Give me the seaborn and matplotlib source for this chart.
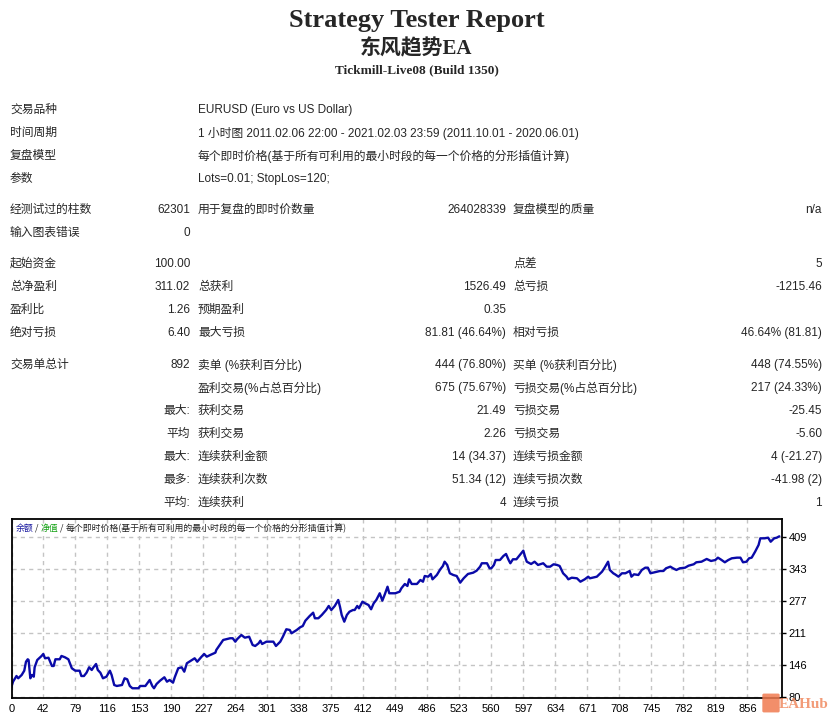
import matplotlib
matplotlib.use("Agg")
import matplotlib.pyplot as plt
from matplotlib.patches import FancyBboxPatch
import seaborn as sns

# report header
title = "Strategy Tester Report"
ea_name = "东风趋势EA"
server = "Tickmill-Live08 (Build 1350)"

info_labels = ["交易品种", "时间周期", "复盘模型", "参数"]
info_values = ["EURUSD (Euro vs US Dollar)",
               "1 小时图 2011.02.06 22:00 - 2021.02.03 23:59 (2011.10.01 - 2020.06.01)",
               "每个即时价格(基于所有可利用的最小时段的每一个价格的分形插值计算)",
               "Lots=0.01; StopLos=120;"]

# stats table: label, value, label, value, label, value
stat_rows = [
    ["经测试过的柱数", "62301", "用于复盘的即时价数量", "264028339", "复盘模型的质量", "n/a"],
    ["输入图表错误", "0", "", "", "", ""],
    ["起始资金", "100.00", "", "", "点差", "5"],
    ["总净盈利", "311.02", "总获利", "1526.49", "总亏损", "-1215.46"],
    ["盈利比", "1.26", "预期盈利", "0.35", "", ""],
    ["绝对亏损", "6.40", "最大亏损", "81.81 (46.64%)", "相对亏损", "46.64% (81.81)"],
    ["交易单总计", "892", "卖单 (%获利百分比)", "444 (76.80%)", "买单 (%获利百分比)", "448 (74.55%)"],
    ["", "", "盈利交易(%占总百分比)", "675 (75.67%)", "亏损交易(%占总百分比)", "217 (24.33%)"],
    ["", "最大:", "获利交易", "21.49", "亏损交易", "-25.45"],
    ["", "平均", "获利交易", "2.26", "亏损交易", "-5.60"],
    ["", "最大:", "连续获利金额", "14 (34.37)", "连续亏损金额", "4 (-21.27)"],
    ["", "最多:", "连续获利次数", "51.34 (12)", "连续亏损次数", "-41.98 (2)"],
    ["", "平均:", "连续获利", "4", "连续亏损", "1"],
]

# balance curve (trade number, balance)
trade_no = [5, 7, 11, 13, 17, 20, 22, 24, 25, 27, 29, 31, 32, 35, 40, 42, 44, 48, 52, 54,
            56, 61, 63, 67, 71, 75, 79, 84, 86, 89, 92, 95, 98, 100, 103, 105, 108, 111, 115, 119,
            121, 124, 127, 133, 136, 139, 142, 145, 152, 154, 160, 165, 168, 170, 173, 177, 182, 185, 188, 192,
            194, 198, 202, 205, 208, 214, 217, 220, 225, 228, 231, 235,
            241, 242, 246, 250, 258, 261, 264, 266, 271, 275, 280, 284, 287, 291, 293, 295, 300, 308, 311, 316,
            319, 323, 327, 329, 335, 339, 342, 345, 350, 354, 356, 360, 364, 369, 372, 375, 379, 383, 385, 387,
            390, 393, 396, 400, 402, 405, 407, 411, 414, 418, 421, 424, 427, 431, 434, 437, 440, 442, 449, 454,
            456, 460, 463, 465, 468, 474, 478, 481, 483, 487, 490, 492, 497, 501, 504, 506, 509, 512, 516, 520,
            524, 528, 533, 539, 543, 547, 549, 555, 558, 560, 563, 565, 570, 574, 577, 580, 582, 585, 589, 593,
            597, 599, 601, 606, 610, 614, 620, 624, 628, 632, 636, 639, 643, 647, 649, 653, 659, 663, 668, 672, 674,
            682, 688, 691, 695, 697, 701, 703, 707, 711, 715, 720, 722, 725, 730, 734, 738, 741, 744, 749, 755,
            759, 762, 767, 770, 774, 778, 784, 788, 794, 797, 803, 809, 814, 819, 822, 825, 830, 834, 838, 844,
            848, 851, 855, 858, 861, 865, 869, 871, 876, 880, 883, 887, 890, 893]
balance = [100.0, 112.1, 123.8, 119.1, 125.9, 134.7, 153.2, 158.2, 156.7, 119.1,
           125.9, 122.4, 141.7, 156.7, 165.0, 169.1, 160.2, 161.4, 144.4, 144.4,
           158.2, 158.2, 165.0, 162.3, 158.2, 139.7, 134.7, 134.7, 123.8, 123.8,
           130.6, 141.7, 136.2, 141.7, 148.5, 136.2, 130.6, 119.1, 122.4, 134.7,
           125.9, 105.3, 103.3, 105.3, 119.1, 117.1, 103.3, 98.6, 98.6, 103.3,
           103.3, 115.6, 103.3, 98.6, 107.4, 114.2, 121.2, 112.1, 115.6, 110.1,
           121.2, 139.7, 141.7, 132.7, 150.0, 156.7, 160.2, 153.2, 163.5, 169.1, 163.5, 167.0,
           171.8, 177.3, 187.6, 197.9, 201.4, 201.4, 194.4, 199.3, 208.1, 202.6,
           204.6, 187.6, 185.5, 191.1, 196.4, 189.6, 194.4, 194.4, 185.5, 194.4,
           204.6, 219.9, 218.4, 211.6, 218.4, 224.0, 226.6, 237.5, 247.2, 254.0,
           242.5, 242.5, 249.3, 259.5, 267.8, 259.5, 267.8, 280.1, 266.3, 249.3,
           235.5, 249.3, 256.0, 259.5, 259.5, 267.8, 263.0, 276.6, 273.3, 269.8,
           261.0, 273.3, 280.1, 293.9, 278.7, 292.4, 307.4, 293.9, 293.9, 297.2,
           304.1, 313.0, 308.9, 322.6, 313.0, 313.0, 321.2, 317.7, 329.4, 328.0,
           333.6, 322.6, 331.5, 343.2, 350.0, 358.8, 352.1, 335.0, 331.5, 329.4,
           315.7, 324.7, 333.6, 336.2, 340.3, 348.6, 355.6, 355.6, 345.3, 345.3,
           352.1, 362.3, 362.3, 370.6, 374.7, 362.3, 355.6, 363.8, 363.8, 372.6,
           381.5, 369.1, 358.8, 354.1, 358.8, 352.1, 355.6, 348.6, 348.6, 353.5,
           352.1, 350.0, 335.0, 328.0, 322.6, 325.9, 324.7, 317.7, 322.6, 328.0, 324.7,
           328.0, 338.3, 346.5, 358.8, 341.8, 335.0, 332.9, 328.0, 335.0, 335.0,
           339.7, 328.0, 332.9, 331.5, 341.8, 346.5, 346.5, 335.0, 337.1, 339.7,
           339.7, 345.3, 348.6, 345.3, 341.8, 345.3, 346.5, 350.6, 353.5, 357.6,
           358.8, 364.4, 360.3, 362.3, 367.1, 363.8, 357.6, 362.3, 365.8, 367.1,
           367.1, 357.6, 358.8, 365.8, 367.1, 379.4, 393.2, 406.9, 406.9, 408.2,
           399.9, 406.9, 408.2, 411.0]

x_ticks = [42, 79, 116, 153, 190, 227, 264, 301, 338, 375, 412, 449,
           486, 523, 560, 597, 634, 671, 708, 745, 782, 819, 856]
y_ticks = [80, 145.8, 211.6, 277.4, 343.2, 409.0]
y_tick_labels = ["80", "146", "211", "277", "343", "409"]

W, H = 835, 717
BODY = ["Liberation Sans", "Noto Sans CJK SC"]
SERIF = ["Liberation Serif", "Noto Sans CJK SC"]

sns.set_style("white")
plt.rcParams["font.family"] = BODY

fig = plt.figure(figsize=(W / 100, H / 100), dpi=100)


def put(x, y, s, ha="left", size=8.5, **kw):
    # place text using pixel coords of the reference
    return fig.text(x / W, 1 - y / H, s, ha=ha, va="center", fontsize=size,
                    family=kw.pop("family", BODY), **kw)


# header
put(417, 20, title, ha="center", size=19, family=SERIF, weight="bold")
put(416, 49, ea_name, ha="center", size=15, family=SERIF, weight="bold")
put(417, 70, server, ha="center", size=9.5, family=SERIF, weight="bold")

for i, (lab, val) in enumerate(zip(info_labels, info_values)):
    y = 110 + i * 23
    put(10, y, lab)
    put(198, y, val)

row_y = [210, 233, 264, 287, 310, 333, 365, 388, 411, 434, 457, 480, 503]
for y, row in zip(row_y, stat_rows):
    put(10, y, row[0])
    put(190, y, row[1], ha="right")
    put(198, y, row[2])
    put(506, y, row[3], ha="right")
    put(513, y, row[4])
    put(822, y, row[5], ha="right")

# balance chart
ax = fig.add_axes([11.5 / W, (H - 697.5) / H, 770 / W, 178.5 / H])
sns.lineplot(x=trade_no, y=balance, ax=ax, color="#0a0aa8", lw=1.7,
             estimator=None, sort=False)
ax.set_xlim(5.24, 895.5)
ax.set_ylim(79.6, 446.6)

ax.set_xticks([5.24] + x_ticks)
ax.set_xticklabels(["0"] + [str(t) for t in x_ticks])
ax.yaxis.tick_right()
ax.set_yticks(y_ticks)
ax.set_yticklabels(y_tick_labels)
ax.tick_params(axis="both", direction="out", length=3, width=1, labelsize=8,
               pad=2, colors="black")
ax.grid(True, color="#c4c4c4", linestyle=(0, (3, 3)), lw=1)
for sp in ax.spines.values():
    sp.set_visible(True)
    sp.set_color("black")
    sp.set_linewidth(1.3)

# legend line at top of the chart
leg_kw = dict(fontsize=6.4, family=["Noto Sans CJK SC", "DejaVu Sans"])
t = ax.text(4 / 770, 0.948, "余额", transform=ax.transAxes, color="#1a1aa0",
            va="center", ha="left", **leg_kw)
for s, c in [(" / ", "#202020"), ("净值", "#10a010"), (" / ", "#202020"),
             ("每个即时价格(基于所有可利用的最小时段的每一个价格的分形插值计算)", "#202020")]:
    t = ax.annotate(s, xy=(1, 0), xycoords=t, va="bottom", ha="left", color=c, **leg_kw)

# watermark
icon = FancyBboxPatch((764 / W, 1 - 711 / H), 14 / W, 16 / H,
                      boxstyle="round,pad=0.002", transform=fig.transFigure,
                      facecolor="#f07a50", edgecolor="none", alpha=0.85)
fig.patches.append(icon)
put(804, 704, "EAHub", ha="center", size=11, family=SERIF, weight="bold",
    color="#f08a60", alpha=0.85)

fig.savefig("out.png", dpi=100)
